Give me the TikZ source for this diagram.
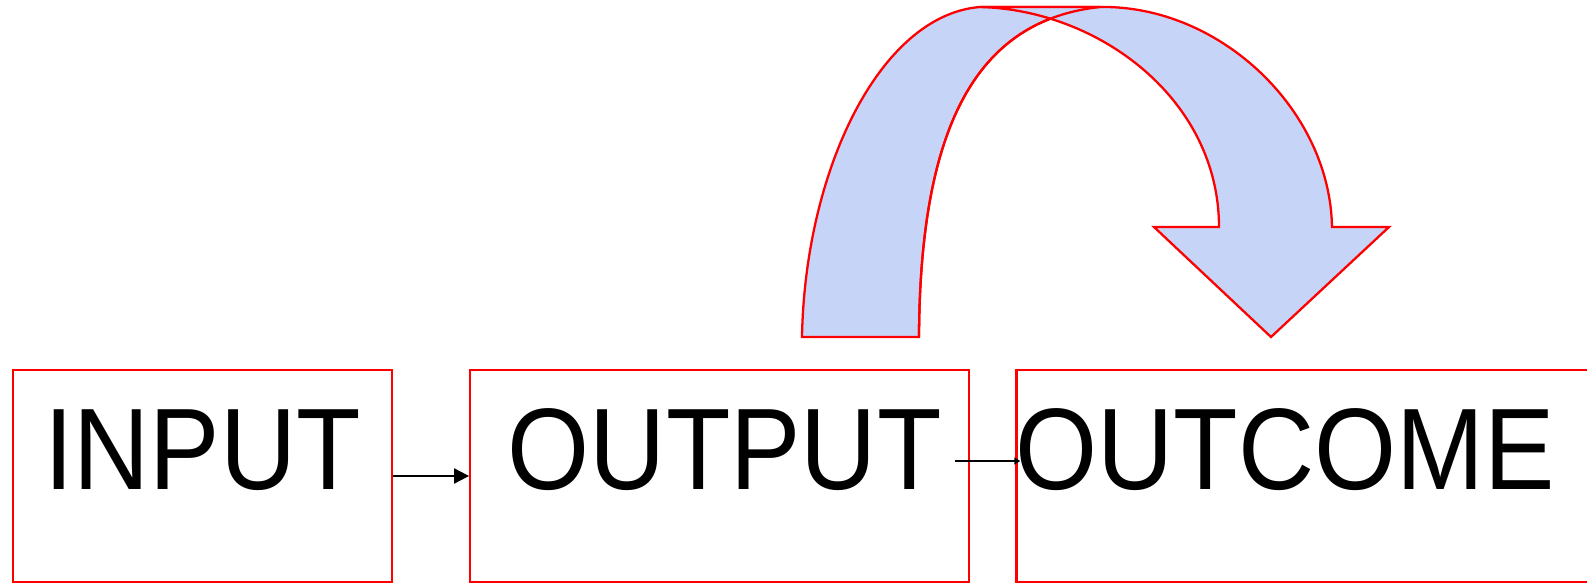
\documentclass[tikz,border=0pt]{standalone}
\usepackage{fontspec}
\setmainfont{Liberation Sans}[FakeStretch=0.91]
\usetikzlibrary{arrows.meta,positioning}
\definecolor{boxred}{RGB}{255,0,0}
\definecolor{arcblue}{RGB}{198,212,248}

\begin{document}
\begin{tikzpicture}[x=0.02cm, y=-0.02cm,
    stagebox/.style={draw=boxred, line width=1.3pt, minimum height=4.24cm, inner sep=0pt},
    stagetext/.style={font=\fontsize{66}{78}\selectfont, inner sep=0pt, anchor=base},
    flow/.style={line width=1.1pt, -{Triangle[length=0.3cm,width=0.3cm]}},
    band/.style={draw=boxred, line width=1.3pt, fill=arcblue}]
  \useasboundingbox (0,0) rectangle (1587,584);

  % the three stages
  \node[stagebox, minimum width=7.58cm](inbox) at (202.5,476){};
  \node[stagebox, minimum width=9.98cm, right=1.52cm of inbox](outbox){};
  \node[stagebox, minimum width=12.16cm, right=0.9cm of outbox](resbox){};

  \node[stagetext] at ([yshift=-0.28cm]inbox.center){INPUT};
  \node[stagetext] at ([xshift=0.1cm,yshift=-0.28cm]outbox.center){OUTPUT};
  \node[stagetext, anchor=base west] at ([yshift=-0.28cm]resbox.west){OUTCOME};

  % arrows between stages
  \draw[flow](inbox.east) -- (outbox.west);
  \coordinate (ostart) at ([xshift=-0.3cm,yshift=0.3cm]outbox.east);
  \coordinate (oend) at ([xshift=0.1cm,yshift=0.3cm]resbox.west);
  \draw[line width=1pt, -{Triangle[length=0.12cm,width=0.14cm]}](ostart) -- (oend);

  % curved arrow from output to outcome
  \path[band](802,337) .. controls (805,170) and (880,15) .. (980,7) -- (1100,7)
    .. controls (980,20) and (920,120) .. (919,337) -- cycle;
  \path[band](980,7) .. controls (1100,10) and (1219,100) .. (1219,227)
    -- (1154,227) -- (1271,337) -- (1389,227) -- (1332,227)
    .. controls (1330,110) and (1220,5) .. (1100,7) -- cycle;
  \draw[boxred, line width=1.3pt](1100,7) .. controls (980,20) and (920,120) .. (919,337);
\end{tikzpicture}
\end{document}
